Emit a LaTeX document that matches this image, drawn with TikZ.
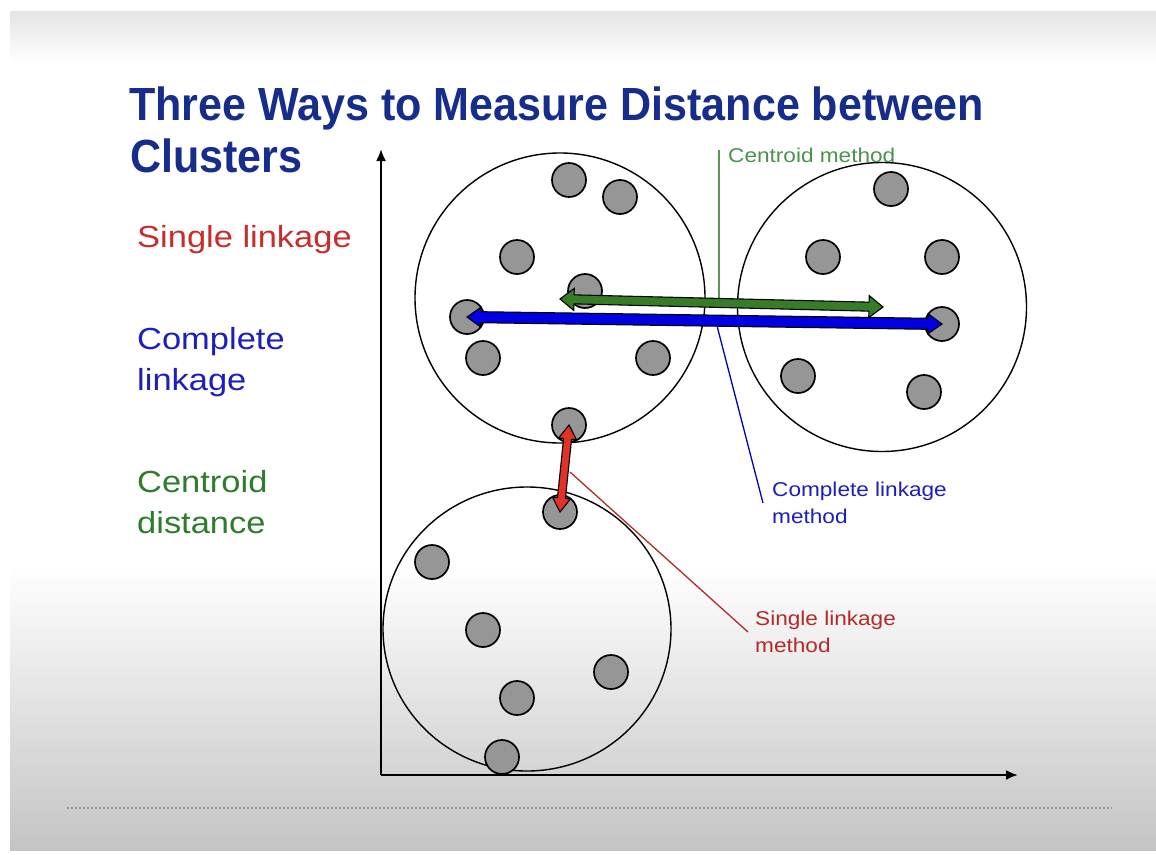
\documentclass[tikz,border=0pt]{standalone}
\usepackage{fontspec}
\setmainfont{Liberation Sans}[FakeStretch=1.13]
\newfontfamily\titlefont{Liberation Sans}[FakeStretch=0.926]
\usetikzlibrary{calc,arrows.meta}
\definecolor{titleblue}{RGB}{22,45,140}
\definecolor{lblred}{RGB}{200,45,45}
\definecolor{lblblue}{RGB}{30,30,190}
\definecolor{lblgreen}{RGB}{45,125,45}
\definecolor{arrblue}{RGB}{0,0,225}
\definecolor{arrgreen}{RGB}{55,125,40}
\definecolor{arrred}{RGB}{225,50,40}
\definecolor{dotgray}{RGB}{150,150,150}
\definecolor{bandgray}{RGB}{228,228,228}
\definecolor{bottomgray}{RGB}{196,196,196}
\definecolor{dashgray}{RGB}{150,150,150}
\newcommand{\blockarrow}[6]{% from, to, color, shaft half, head half, head length (all in pt)
  \coordinate (tmpP) at ($(#1)!#6pt!(#2)$);
  \coordinate (tmpQ) at ($(#2)!#6pt!(#1)$);
  \filldraw[fill=#3,draw=black,line width=1.1,line join=miter]
    (#1) -- ($(tmpP)!#5pt!90:(#2)$) -- ($(tmpP)!#4pt!90:(#2)$)
    -- ($(tmpQ)!#4pt!-90:(#1)$) -- ($(tmpQ)!#5pt!-90:(#1)$) -- (#2)
    -- ($(tmpQ)!#5pt!90:(#1)$) -- ($(tmpQ)!#4pt!90:(#1)$)
    -- ($(tmpP)!#4pt!-90:(#2)$) -- ($(tmpP)!#5pt!-90:(#2)$) -- cycle;
}
\tikzset{
  dot/.style={circle,fill=dotgray,draw=black,line width=1.7,minimum size=34,inner sep=0},
  cluster/.style={draw=black,line width=1.4},
  axis/.style={draw=black,line width=2.2,-{Latex[length=12,width=10]}},
  bigtxt/.style={inner sep=0,anchor=base west,font=\fontsize{30.5}{36}\selectfont},
  smalltxt/.style={inner sep=0,anchor=base west,font=\fontsize{20}{24}\selectfont},
  titletxt/.style={inner sep=0,anchor=base west,text=titleblue,font=\titlefont\bfseries\fontsize{46.5}{52}\selectfont},
}
\begin{document}
\begin{tikzpicture}[x=1pt,y=-1pt]
\useasboundingbox (0,0) rectangle (1156,854);
% slide background
\fill[white] (0,0) rectangle (1156,854);
\shade[top color=bandgray,bottom color=white] (10,11) rectangle (1156,62);
\shade[top color=white,bottom color=bottomgray] (10,565) rectangle (1156,850);
\draw[dashgray,line width=1.2,dash pattern=on 2 off 2] (67,808) -- (1112,808);

% title
\node[titletxt] (t1) at (129,120) {Three Ways to Measure Distance between};
\node[titletxt] (t2) at (130,172) {Clusters};

% left labels
\node[bigtxt,text=lblred] (l1) at (137,247) {Single linkage};
\node[bigtxt,text=lblblue] (l2) at (137,349) {Complete};
\node[bigtxt,text=lblblue] (l3) at (137,390) {linkage};
\node[bigtxt,text=lblgreen] (l4) at (137,492) {Centroid};
\node[bigtxt,text=lblgreen] (l5) at (137,533) {distance};

% axes
\coordinate (O) at (381,775);
\coordinate (Ytip) at (381,149);
\coordinate (Xtip) at (1018,775);
\draw[axis] (O) -- (Ytip);
\draw[axis] (O) -- (Xtip);

% clusters
\draw[cluster] (560,298) circle (145);
\draw[cluster] (882,307) circle (144.5);
\draw[cluster] (527,629) ellipse (144 and 142);

% cluster A dots
\node[dot] (a1) at (569,180) {};
\node[dot] (a2) at (620,197) {};
\node[dot] (a3) at (517,257) {};
\node[dot] (a4) at (585,291) {};
\node[dot] (a5) at (467,317) {};
\node[dot] (a6) at (483,358) {};
\node[dot] (a7) at (653,358) {};
\node[dot] (a8) at (569,425) {};
% cluster B dots
\node[dot] (b1) at (891,189) {};
\node[dot] (b2) at (823,257) {};
\node[dot] (b3) at (942,257) {};
\node[dot] (b4) at (942,324) {};
\node[dot] (b5) at (798,376) {};
\node[dot] (b6) at (924,392) {};
% cluster C dots
\node[dot] (c1) at (560,512) {};
\node[dot] (c2) at (432,562) {};
\node[dot] (c3) at (483,630) {};
\node[dot] (c4) at (611,672) {};
\node[dot] (c5) at (517,698) {};
\node[dot] (c6) at (502,757) {};

% centroids
\coordinate (cenA) at (560,299);
\coordinate (cenB) at (883,307);

% callout lines
\coordinate (gTop) at (719,150);
\coordinate (gFoot) at (719,302);
\coordinate (bFoot) at (716,322);
\coordinate (bEnd) at (763,503);
\coordinate (rFoot) at (570,472);
\coordinate (rEnd) at (748,632);
\draw[lblgreen!80!white,line width=1.1] (gFoot) -- (gTop);
\draw[arrblue!80!black,line width=1.3] (bFoot) -- (bEnd);
\draw[lblred!90!black,line width=1.3] (rFoot) -- (rEnd);

% double arrows
\blockarrow{a5.center}{b4.center}{arrblue}{5.5}{10}{14}
\blockarrow{cenA}{cenB}{arrgreen}{4.5}{11}{14}
\blockarrow{a8.center}{c1.center}{arrred}{4}{9}{14}

% callout labels
\node[smalltxt,text=lblgreen!85!white] (cm) at (728,162) {Centroid method};
\node[smalltxt,text=lblblue] (clm1) at (772,496) {Complete linkage};
\node[smalltxt,text=lblblue] (clm2) at (772,523) {method};
\node[smalltxt,text=lblred!90!black] (slm1) at (755,625) {Single linkage};
\node[smalltxt,text=lblred!90!black] (slm2) at (755,652) {method};
\end{tikzpicture}
\end{document}
